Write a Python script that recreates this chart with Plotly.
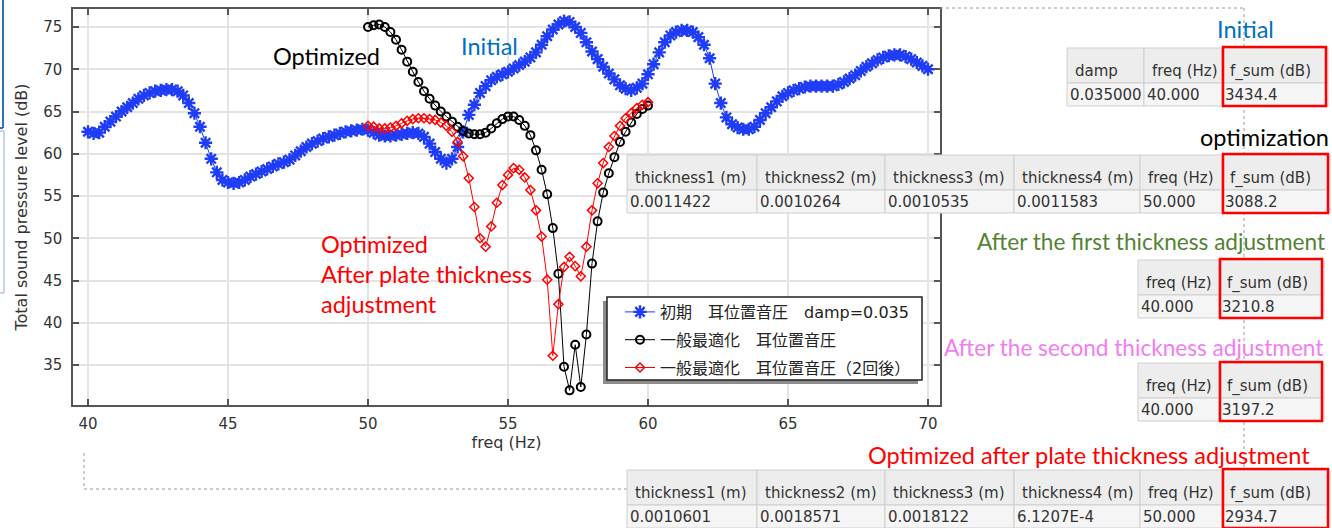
import plotly.graph_objects as go

# ---------------- data ----------------
freq_initial = [
    40.0, 40.2, 40.4, 40.6, 40.8, 41.0, 41.2, 41.4, 41.6, 41.8,
    42.0, 42.2, 42.4, 42.6, 42.8, 43.0, 43.2, 43.4, 43.6, 43.8,
    44.0, 44.2, 44.4, 44.6, 44.8, 45.0, 45.2, 45.4, 45.6, 45.8,
    46.0, 46.2, 46.4, 46.6, 46.8, 47.0, 47.2, 47.4, 47.6, 47.8,
    48.0, 48.2, 48.4, 48.6, 48.8, 49.0, 49.2, 49.4, 49.6, 49.8,
    50.0, 50.2, 50.4, 50.6, 50.8, 51.0, 51.2, 51.4, 51.6, 51.8,
    52.0, 52.2, 52.4, 52.6, 52.8, 53.0, 53.2, 53.4, 53.6, 53.8,
    54.0, 54.2, 54.4, 54.6, 54.8, 55.0, 55.2, 55.4, 55.6, 55.8,
    56.0, 56.2, 56.4, 56.6, 56.8, 57.0, 57.2, 57.4, 57.6, 57.8,
    58.0, 58.2, 58.4, 58.6, 58.8, 59.0, 59.2, 59.4, 59.6, 59.8,
    60.0, 60.2, 60.4, 60.6, 60.8, 61.0, 61.2, 61.4, 61.6, 61.8,
    62.0, 62.2, 62.4, 62.6, 62.8, 63.0, 63.2, 63.4, 63.6, 63.8,
    64.0, 64.2, 64.4, 64.6, 64.8, 65.0, 65.2, 65.4, 65.6, 65.8,
    66.0, 66.2, 66.4, 66.6, 66.8, 67.0, 67.2, 67.4, 67.6, 67.8,
    68.0, 68.2, 68.4, 68.6, 68.8, 69.0, 69.2, 69.4, 69.6, 69.8,
    70.0,
]
spl_initial = [
    62.6, 62.4, 62.5, 63.2, 63.8, 64.4, 65.0, 65.5, 66.0, 66.5,
    66.9, 67.2, 67.4, 67.5, 67.6, 67.6, 67.4, 66.9, 66.0, 64.8,
    63.2, 61.3, 59.4, 57.8, 56.9, 56.6, 56.5, 56.6, 56.9, 57.3,
    57.6, 57.9, 58.2, 58.5, 58.8, 59.0, 59.3, 59.8, 60.3, 60.8,
    61.2, 61.5, 61.8, 62.0, 62.2, 62.4, 62.6, 62.7, 62.8, 62.9,
    62.8, 62.5, 62.2, 62.1, 62.1, 62.2, 62.3, 62.4, 62.5, 62.4,
    62.0, 61.2, 60.2, 59.4, 58.9, 59.4, 60.8, 62.6, 64.6, 65.8,
    67.2, 68.0, 68.7, 69.1, 69.4, 69.7, 70.1, 70.5, 70.9, 71.4,
    72.0, 72.9, 73.9, 74.7, 75.3, 75.7, 75.6, 75.0, 74.3, 73.2,
    72.1, 71.2, 70.3, 69.5, 68.8, 68.1, 67.7, 67.5, 67.8, 68.3,
    69.4, 70.6, 72.0, 73.2, 74.0, 74.4, 74.6, 74.6, 74.4, 73.8,
    72.9, 71.3, 68.3, 66.0, 64.3, 63.5, 63.1, 62.9, 62.9, 63.2,
    64.0, 64.8, 65.5, 66.2, 66.8, 67.2, 67.5, 67.7, 67.9, 68.0,
    68.0, 68.0, 68.0, 68.0, 68.2, 68.5, 68.9, 69.3, 69.8, 70.3,
    70.7, 71.1, 71.4, 71.6, 71.7, 71.7, 71.5, 71.2, 70.8, 70.4,
    70.0,
]
freq_opt = [
    50.0, 50.2, 50.4, 50.6, 50.8, 51.0, 51.2, 51.4, 51.6, 51.8,
    52.0, 52.2, 52.4, 52.6, 52.8, 53.0, 53.2, 53.4, 53.6, 53.8,
    54.0, 54.2, 54.4, 54.6, 54.8, 55.0, 55.2, 55.4, 55.6, 55.8,
    56.0, 56.2, 56.4, 56.6, 56.8, 57.0, 57.2, 57.4, 57.6, 57.8,
    58.0, 58.2, 58.4, 58.6, 58.8, 59.0, 59.2, 59.4, 59.6, 59.8,
    60.0,
]
spl_opt = [
    75.0, 75.2, 75.3, 75.0, 74.4, 73.5, 72.3, 70.9, 69.7, 68.5,
    67.4, 66.5, 65.7, 65.0, 64.4, 63.8, 63.2, 62.7, 62.4, 62.3,
    62.3, 62.5, 63.0, 63.6, 64.1, 64.4, 64.4, 64.0, 63.3, 62.2,
    60.4, 58.1, 55.2, 51.2, 45.8, 34.8, 32.0, 37.4, 32.4, 38.6,
    47.0, 52.0, 55.4, 57.7, 59.6, 61.4, 62.6, 63.7, 64.7, 65.3,
    65.7,
]
spl_opt_adj = [
    63.3, 63.2, 63.0, 63.0, 63.1, 63.3, 63.6, 63.9, 64.1, 64.2,
    64.2, 64.1, 64.0, 63.7, 63.3, 62.6, 61.4, 59.7, 57.1, 53.7,
    50.0, 49.0, 51.4, 54.2, 56.3, 57.5, 58.3, 58.1, 57.2, 55.7,
    53.3, 50.2, 45.1, 36.1, 42.2, 46.6, 47.8, 46.7, 45.5, 49.0,
    53.3, 56.5, 58.9, 60.8, 62.1, 63.3, 64.2, 64.8, 65.4, 65.8,
    66.1,
]
legend_names = ["初期　耳位置音圧　damp=0.035",
                "一般最適化　耳位置音圧",
                "一般最適化　耳位置音圧（2回後）"]
x_ticks = [40, 45, 50, 55, 60, 65, 70]
y_ticks = [35, 40, 45, 50, 55, 60, 65, 70, 75]

tbl_initial_head = ["damp", "freq (Hz)", "f_sum (dB)"]
tbl_initial_vals = ["0.035000", "40.000", "3434.4"]
tbl_thick_head = ["thickness1 (m)", "thickness2 (m)", "thickness3 (m)",
                  "thickness4 (m)", "freq (Hz)", "f_sum (dB)"]
tbl_opt_vals = ["0.0011422", "0.0010264", "0.0010535", "0.0011583", "50.000", "3088.2"]
tbl_adj_head = ["freq (Hz)", "f_sum (dB)"]
tbl_adj1_vals = ["40.000", "3210.8"]
tbl_adj2_vals = ["40.000", "3197.2"]
tbl_final_vals = ["0.0010601", "0.0018571", "0.0018122", "6.1207E-4", "50.000", "2934.7"]

# ---------------- layout helpers (pixel -> paper) ----------------
W, H = 1332, 528
L, R, T, B = 73, 940, 9, 405


def px(x):
    return (x - L) / (R - L)


def py(y):
    return (B - y) / (B - T)


shapes = []
annotations = []


def line(x0, y0, x1, y1, color, width=1, dash="solid"):
    shapes.append(dict(type="line", xref="paper", yref="paper",
                       x0=px(x0), y0=py(y0), x1=px(x1), y1=py(y1),
                       line=dict(color=color, width=width, dash=dash), layer="above"))


def rect(x0, y0, x1, y1, fill="rgba(0,0,0,0)", color="rgba(0,0,0,0)", width=1):
    shapes.append(dict(type="rect", xref="paper", yref="paper",
                       x0=px(x0), y0=py(y0), x1=px(x1), y1=py(y1),
                       fillcolor=fill, line=dict(color=color, width=width), layer="above"))


def text(x, y, s, color, size, family="Lato", anchor="center"):
    annotations.append(dict(x=px(x), y=py(y), xref="paper", yref="paper", text=s,
                            showarrow=False, xanchor=anchor, yanchor="middle",
                            font=dict(family=family, size=size, color=color)))


TBL_FONT = "DejaVu Sans"


def table(edges, top, head, vals, red_idx):
    split = top + 35
    bottom = top + 58
    for i in range(len(edges) - 1):
        x0, x1 = edges[i], edges[i + 1]
        rect(x0, top, x1, split, fill="#ededed", color="#cfcfcf", width=1)
        rect(x0, split, x1, bottom, fill="#f5f5f5", color="#cfcfcf", width=1)
        text(x0 + 6, top + 23, head[i], "#333333", 15, TBL_FONT, "left")
        text(x0 + 1, top + 47, vals[i], "#333333", 15, TBL_FONT, "left")
    rect(edges[red_idx] + 1, top - 1, edges[red_idx + 1] - 2, bottom, color="#ff0000", width=2.5)


# dotted selection frame (drawn first, tables cover it)
line(940, 8, 1244, 8, "#9a9a9a", 1, "dot")
line(1244, 8, 1244, 528, "#9a9a9a", 1, "dot")
line(84, 453, 84, 489, "#9a9a9a", 1, "dot")
line(84, 489, 627, 489, "#9a9a9a", 1, "dot")

# left-edge slide fragments
line(3, 0, 3, 128, "#2e75b6", 2)
line(0, 128, 3, 128, "#2e75b6", 2)
line(4, 131, 4, 293, "#8faadc", 1)
line(0, 131, 4, 131, "#8faadc", 1)
line(0, 293, 4, 293, "#8faadc", 1)

# legend frame with shadow (the legend itself is transparent, on top)
rect(603, 301, 918, 384, fill="#8c8c8c", color="#8c8c8c", width=0)
rect(607, 297, 922, 380, fill="white", color="#222222", width=1.5)

# tables
thick_edges = [627, 757, 885, 1014, 1140, 1222, 1330]
table([1067, 1144, 1222, 1328], 48, tbl_initial_head, tbl_initial_vals, 2)
table(thick_edges, 155, tbl_thick_head, tbl_opt_vals, 5)
table([1138, 1219, 1324], 260, tbl_adj_head, tbl_adj1_vals, 1)
table([1138, 1219, 1324], 363, tbl_adj_head, tbl_adj2_vals, 1)
table(thick_edges, 470, tbl_thick_head, tbl_final_vals, 5)

# text labels
LBL = 23.5
text(326, 56, "Optimized", "#000000", LBL)
text(489, 46, "Initial", "#0070c0", LBL)
text(319, 244, "Optimized", "#ff0000", LBL, anchor="left")
text(319, 274, "After plate thickness", "#ff0000", LBL, anchor="left")
text(319, 304, "adjustment", "#ff0000", LBL, anchor="left")
text(1245, 29, "Initial", "#0070c0", LBL)
text(1264, 137, "optimization", "#000000", LBL)
text(975, 241, "After the first thickness adjustment", "#548235", 22.6, anchor="left")
text(942, 347, "After the second thickness adjustment", "#f27cf2", 22.6, anchor="left")
text(866, 455, "Optimized after plate thickness adjustment", "#ff0000", LBL, anchor="left")

# ---------------- figure ----------------
BLUE = "#1f3cf7"
fig = go.Figure()
fig.add_trace(go.Scatter(
    x=freq_initial, y=spl_initial, mode="lines+markers", name=legend_names[0],
    legendgroup="g1",
    line=dict(color=BLUE, width=1),
    marker=dict(symbol="asterisk-open", size=11, color=BLUE, line=dict(color=BLUE, width=2.4))))
fig.add_trace(go.Scatter(
    x=freq_opt, y=spl_opt, mode="lines+markers", name=legend_names[1],
    legendgroup="g2",
    line=dict(color="#000000", width=1),
    marker=dict(symbol="circle-open", size=8, color="#000000", line=dict(color="#000000", width=2))))
fig.add_trace(go.Scatter(
    x=freq_opt, y=spl_opt_adj, mode="lines+markers", name=legend_names[2],
    legendgroup="g3",
    line=dict(color="#ff0000", width=1),
    marker=dict(symbol="diamond-open", size=7, color="#ff0000", line=dict(color="#ff0000", width=1.5))))

TICK_FONT = dict(family="DejaVu Sans", size=15, color="#333333")
TITLE_FONT = dict(family="DejaVu Sans", size=16, color="#333333")
fig.update_layout(
    width=W, height=H,
    margin=dict(l=L, r=W - R, t=T, b=H - B, autoexpand=False),
    paper_bgcolor="white", plot_bgcolor="white",
    showlegend=True,
    legend=dict(x=px(620), y=py(295), xanchor="left", yanchor="top",
                bgcolor="rgba(0,0,0,0)", borderwidth=0, tracegroupgap=4,
                font=dict(family="DejaVu Sans, Noto Sans CJK JP", size=16, color="#222222")),
    xaxis=dict(range=[40 - (88 - L) / 28, 70 + (R - 928) / 28], tickvals=x_ticks,
               ticks="inside", ticklen=6, tickwidth=1.5, tickcolor="#555555",
               showline=True, linecolor="#555555", linewidth=1.5, mirror="ticks",
               showgrid=True, gridcolor="#e4e4e4", gridwidth=1.5, zeroline=False,
               tickfont=TICK_FONT, ticklabelstandoff=4,
               title=dict(text="freq (Hz)", font=TITLE_FONT, standoff=0)),
    yaxis=dict(range=[35 - (B - 365) / 8.45, 75 + (27 - T) / 8.45], tickvals=y_ticks,
               ticks="inside", ticklen=6, tickwidth=1.5, tickcolor="#555555",
               showline=True, linecolor="#555555", linewidth=1.5, mirror="ticks",
               showgrid=True, gridcolor="#e4e4e4", gridwidth=1.5, zeroline=False,
               tickfont=TICK_FONT, ticklabelstandoff=6,
               title=dict(text="Total sound pressure level (dB)", font=TITLE_FONT, standoff=12)),
    shapes=shapes,
    annotations=annotations,
)

fig.write_html("out.html", config={"displayModeBar": False},
               post_script="document.body.style.margin='0';document.body.style.overflow='hidden';")
